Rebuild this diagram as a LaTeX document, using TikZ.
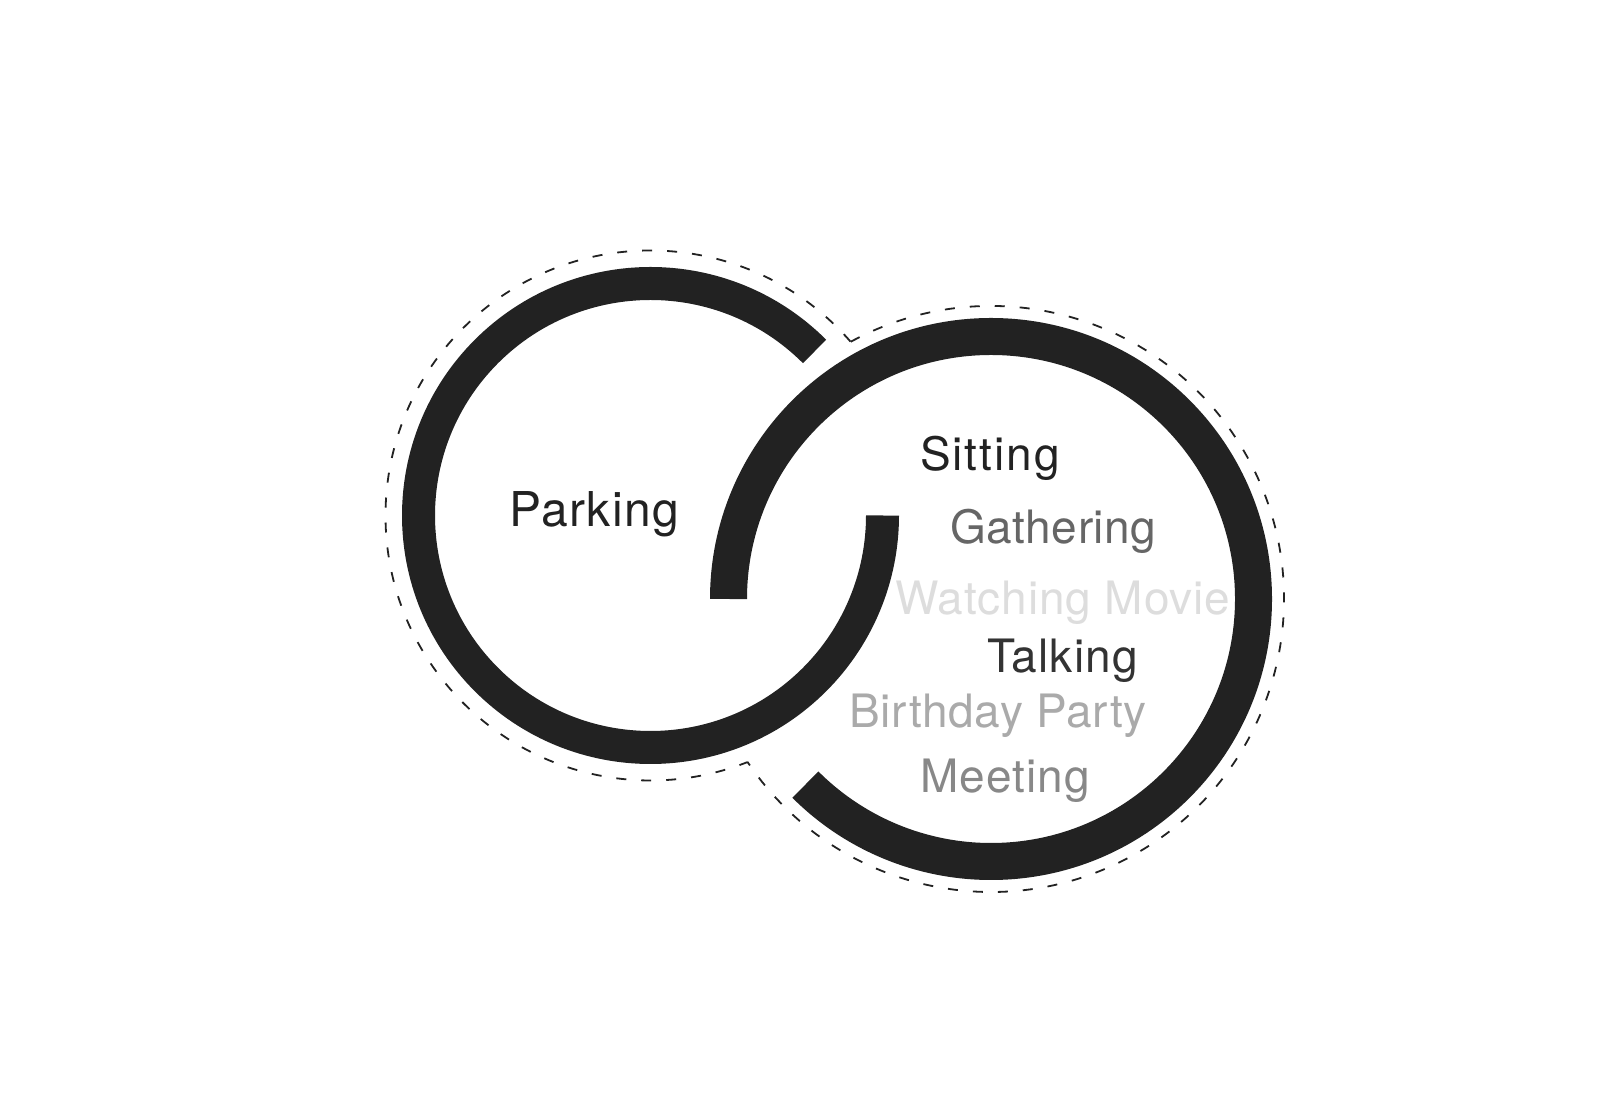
\documentclass[tikz,border=0pt]{standalone}
\usepackage{fontspec}
\setmainfont{TeX Gyre Heros}
\definecolor{ringc}{HTML}{222222}
\definecolor{cA}{HTML}{222222}
\definecolor{cB}{HTML}{666666}
\definecolor{cC}{HTML}{DDDDDD}
\definecolor{cD}{HTML}{333333}
\definecolor{cE}{HTML}{AAAAAA}
\definecolor{cF}{HTML}{888888}
\begin{document}
\begin{tikzpicture}[x=1pt,y=1pt,
  ring/.style={draw=ringc, line cap=butt},
  outline/.style={draw=ringc, line width=1.8pt, dash pattern=on 10pt off 15pt},
  lbl/.style={anchor=base west, inner sep=0pt, font=\fontsize{46}{50}\selectfont}]
\useasboundingbox[fill=white] (0,0) rectangle (1600,1105);
\coordinate (cl) at (650.5,589.5);
\coordinate (cr) at (991,506);
% thick rings
\draw[ring, line width=33pt] ([shift={(45:232)}]cl) arc[start angle=45, end angle=360, radius=232];
\draw[ring, line width=37pt] ([shift={(180:262.5)}]cr) arc[start angle=180, end angle=-135, radius=262.5];
% dashed outline of the union
\draw[outline] ([shift={(41:265)}]cl) arc[start angle=41, end angle=291.5, radius=265];
\draw[outline] ([shift={(118.6:293)}]cr) arc[start angle=118.6, end angle=-146.2, radius=293];
% labels
\node[lbl, text=cA, font=\fontsize{48}{52}\selectfont] (parking) at (509,578) {\addfontfeature{LetterSpace=2.8}Parking};
\node[lbl, text=cA] (sitting) at (920,634) {\addfontfeature{LetterSpace=4.2}Sitting};
\node[lbl, text=cB] (gathering) at (950,561) {\addfontfeature{LetterSpace=1.2}Gathering};
\node[lbl, text=cC] (movie) at (895,490) {\addfontfeature{LetterSpace=1.9}Watching Movie};
\node[lbl, text=cD] (talking) at (987,432) {\addfontfeature{LetterSpace=2.5}Talking};
\node[lbl, text=cE] (birthday) at (849,377) {\addfontfeature{LetterSpace=1.6}Birthday Party};
\node[lbl, text=cF] (meeting) at (920,312) {\addfontfeature{LetterSpace=2.5}Meeting};
\end{tikzpicture}
\end{document}
